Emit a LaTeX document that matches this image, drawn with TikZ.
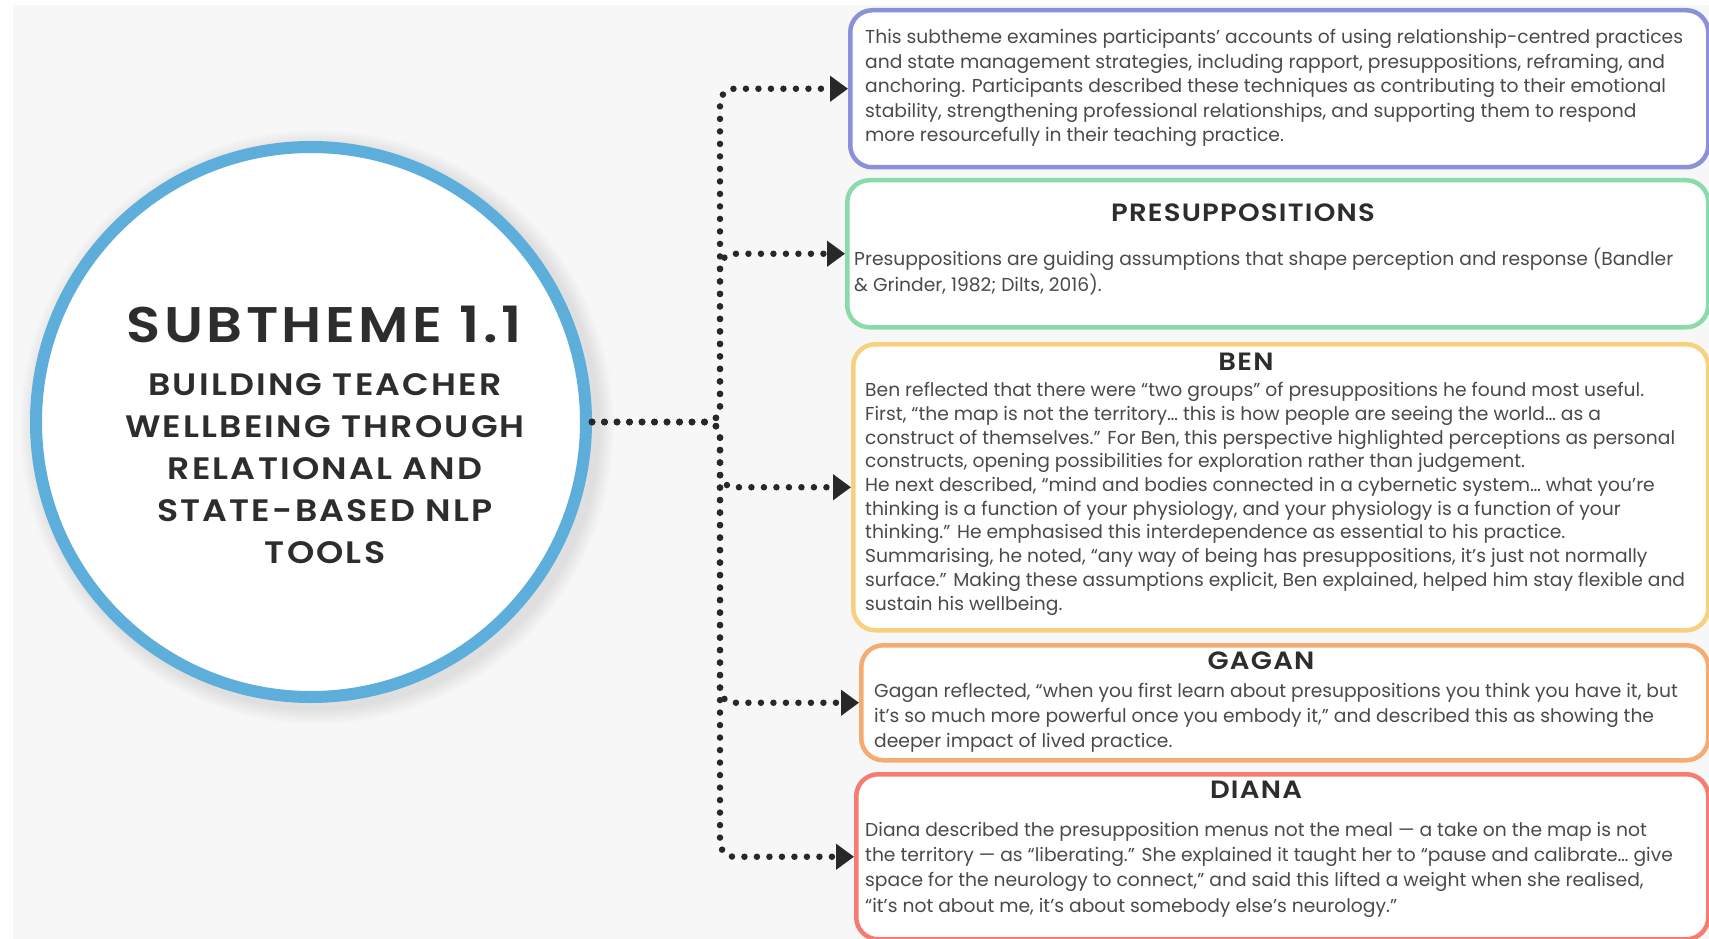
\documentclass[tikz,border=0pt]{standalone}
\usepackage{fontspec}
\setmainfont{Poppins}
\newfontfamily\capsfont{Poppins SemiBold}[FakeStretch=1.12, LetterSpace=7]
\newfontfamily\headfont{Poppins SemiBold}[FakeStretch=1.1, LetterSpace=5]
\usetikzlibrary{arrows.meta}

\definecolor{pageGrey}{RGB}{247,247,247}
\definecolor{ringBlue}{RGB}{93,174,218}
\definecolor{cardPurple}{RGB}{140,144,216}
\definecolor{cardGreen}{RGB}{138,219,169}
\definecolor{cardYellow}{RGB}{247,209,126}
\definecolor{cardOrange}{RGB}{245,172,114}
\definecolor{cardRed}{RGB}{244,124,114}
\definecolor{ink}{RGB}{45,45,45}
\definecolor{bodyInk}{RGB}{74,74,74}
\definecolor{linkInk}{RGB}{40,40,40}

\begin{document}
\begin{tikzpicture}[x=1pt,y=-1pt,
  card/.style={draw=#1, line width=4.5pt, fill=white, rounded corners=22pt,
    anchor=north west, inner sep=0pt},
  cardtitle/.style={font=\headfont\fontsize{25}{25}\selectfont, text=ink,
    anchor=base, inner sep=0pt},
  cardbody/.style={font=\fontsize{18.7}{#1}\selectfont, text=bodyInk,
    align=left, anchor=base west, inner sep=0pt},
  cardbody/.default=24.5,
  link/.style={draw=linkInk, line width=6.5pt, line cap=round,
    dash pattern=on 0pt off 12.5pt, rounded corners=14pt,
    -{Triangle[length=18pt,width=25pt]}}
]
\useasboundingbox (0,0) rectangle (1709,939);
\fill[white] (0,0) rectangle (1709,939);
\fill[pageGrey] (13,5) rectangle (1709,939);

% soft shadow under the central disc
\foreach \r in {1,...,8}
  \fill[black, opacity=0.010] (317,427) circle[radius=281+2*\r];

% central disc
\node[circle, draw=ringBlue, line width=12pt, fill=white, minimum size=550pt,
  inner sep=0pt] (hub) at (311,422) {};
\node[font=\capsfont\fontsize{50}{50}\selectfont, text=ink, anchor=base,
  inner sep=0pt] (hubtitle) at (324,342) {SUBTHEME 1.1};
% the node is anchored on the baseline of its last line
\node[font=\capsfont\fontsize{31}{42}\selectfont, text=ink, align=center,
  anchor=base, inner sep=0pt] (hubname) at (325,563)
  {BUILDING TEACHER\\WELLBEING THROUGH\\RELATIONAL AND\\STATE-BASED NLP\\TOOLS};

% cards
\node[card=cardPurple, minimum width=858pt, minimum height=157pt] (intro) at (848,8) {};
\node[card=cardGreen, minimum width=861pt, minimum height=147pt] (presup) at (845,178) {};
\node[card=cardYellow, minimum width=855pt, minimum height=286pt] (ben) at (851,342) {};
\node[card=cardOrange, minimum width=847pt, minimum height=115pt] (gagan) at (859,643) {};
\node[card=cardRed, minimum width=852pt, minimum height=165pt] (diana) at (854,772) {};

% card texts, each placed by the baseline of its last line
\node[cardbody] (introtext) at (865,142)
  {This subtheme examines participants’ accounts of using relationship-centred practices\\
   and state management strategies, including rapport, presuppositions, reframing, and\\
   anchoring. Participants described these techniques as contributing to their emotional\\
   stability, strengthening professional relationships, and supporting them to respond\\
   more resourcefully in their teaching practice.};

\node[cardtitle] (presuptitle) at (1243,222) {PRESUPPOSITIONS};
\node[cardbody=26] (presuptext) at (854,291)
  {Presuppositions are guiding assumptions that shape perception and response (Bandler\\
   \& Grinder, 1982; Dilts, 2016).};

\node[cardtitle] (bentitle) at (1246,370) {BEN};
\node[cardbody=23.7] (bentext) at (865,610)
  {Ben reflected that there were “two groups” of presuppositions he found most useful.\\
   First, “the map is not the territory… this is how people are seeing the world… as a\\
   construct of themselves.” For Ben, this perspective highlighted perceptions as personal\\
   constructs, opening possibilities for exploration rather than judgement.\\
   He next described, “mind and bodies connected in a cybernetic system… what you’re\\
   thinking is a function of your physiology, and your physiology is a function of your\\
   thinking.” He emphasised this interdependence as essential to his practice.\\
   Summarising, he noted, “any way of being has presuppositions, it’s just not normally\\
   surface.” Making these assumptions explicit, Ben explained, helped him stay flexible and\\
   sustain his wellbeing.};

\node[cardtitle] (gagantitle) at (1261,669) {GAGAN};
\node[cardbody=25] (gagantext) at (874,747)
  {Gagan reflected, “when you first learn about presuppositions you think you have it, but\\
   it’s so much more powerful once you embody it,” and described this as showing the\\
   deeper impact of lived practice.};

\node[cardtitle] (dianatitle) at (1256,798) {DIANA};
\node[cardbody=25.3] (dianatext) at (865,912)
  {Diana described the presupposition menus not the meal — a take on the map is not\\
   the territory — as “liberating.” She explained it taught her to “pause and calibrate… give\\
   space for the neurology to connect,” and said this lifted a weight when she realised,\\
   “it’s not about me, it’s about somebody else’s neurology.”};

% dotted connectors
\coordinate (trunk) at (720,422);
\foreach \card in {intro,presup,ben,gagan,diana}
  \draw[link] (hub.east) -- (trunk) |- (\card.west);
\end{tikzpicture}
\end{document}
